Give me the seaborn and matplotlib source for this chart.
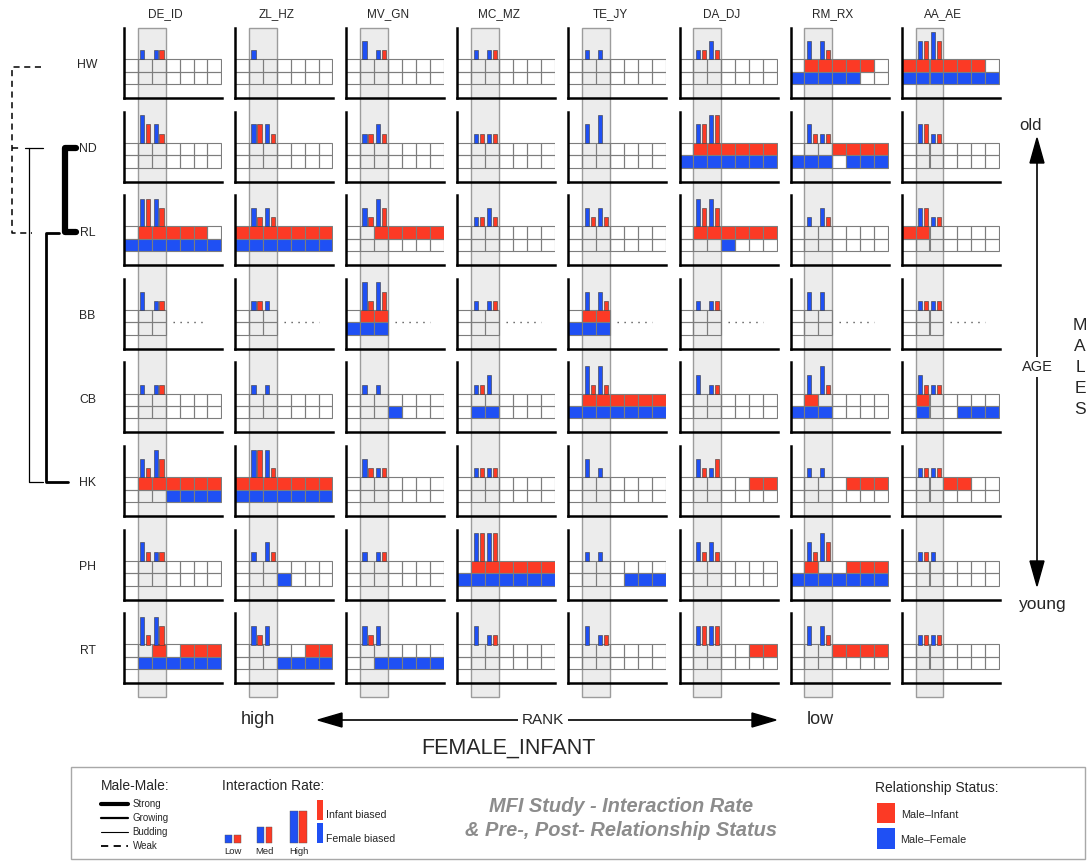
import matplotlib
matplotlib.use("Agg")
import matplotlib.pyplot as plt
from matplotlib.patches import Rectangle, Polygon
import seaborn as sns

# ---------------- data ----------------
females = ["DE_ID", "ZL_HZ", "MV_GN", "MC_MZ", "TE_JY", "DA_DJ", "RM_RX", "AA_AE"]
males = ["HW", "ND", "RL", "BB", "CB", "HK", "PH", "RT"]
rate_names = ["Low", "Med", "High"]          # level 1..3 (0 = no bar)
# interaction-rate levels per female: [female-biased, infant-biased, female-biased, infant-biased]
HW_rate = [[1,0,1,1],[1,0,0,0],[2,0,1,1],[1,0,1,1],[1,0,1,0],[1,1,2,1],[2,0,2,1],[2,2,3,2]]
ND_rate = [[3,2,2,1],[2,2,2,1],[1,1,2,1],[1,1,1,1],[2,0,3,0],[2,2,3,3],[2,1,1,1],[2,2,1,1]]
RL_rate = [[3,3,3,2],[2,1,2,1],[2,1,3,2],[1,1,2,1],[2,1,2,1],[3,2,3,2],[1,0,2,1],[2,2,1,1]]
BB_rate = [[2,0,1,1],[1,1,1,0],[3,1,3,2],[1,0,1,1],[2,0,2,1],[1,0,1,1],[2,0,2,0],[1,1,1,1]]
CB_rate = [[1,0,1,1],[1,0,1,0],[1,0,1,0],[1,1,2,0],[3,1,3,1],[2,0,1,1],[2,0,3,1],[2,1,1,1]]
HK_rate = [[2,1,3,2],[3,3,3,1],[2,1,1,1],[1,1,1,1],[2,0,1,0],[2,1,1,2],[1,0,1,0],[1,1,1,1]]
PH_rate = [[2,1,1,1],[1,0,2,1],[1,0,1,1],[3,3,3,3],[1,0,1,0],[2,1,2,1],[2,1,3,2],[1,1,1,0]]
RT_rate = [[3,1,3,2],[2,1,2,0],[2,1,2,0],[2,0,1,1],[2,0,1,1],[2,2,2,2],[2,0,2,1],[1,1,1,1]]

# relationship status over time periods (1 = present)
HW_infant = ["0000000","0000000","0000000","0000000","0000000","0000000","0111110","1111110"]
HW_female = ["0000000","0000000","0000000","0000000","0000000","0000000","1111100","1111111"]
ND_infant = ["0000000","0000000","0000000","0000000","0000000","0111111","0001111","0000000"]
ND_female = ["0000000","0000000","0000000","0000000","0000000","1111111","1110111","0000000"]
RL_infant = ["0111110","1111111","0011111","0000000","0000000","0111111","0000000","1100000"]
RL_female = ["1111111","1111111","0000000","0000000","0000000","0001000","0000000","0000000"]
BB_infant = ["000","000","011","000","011","000","000","000"]
BB_female = ["000","000","111","000","111","000","000","000"]
CB_infant = ["0000000","0000000","0000000","0000000","0111111","0000000","0100000","0100000"]
CB_female = ["0000000","0000000","0001000","0110000","1111111","0000000","1110000","0100111"]
HK_infant = ["0111111","1111111","0000000","0000000","0000000","0000011","0000111","0001100"]
HK_female = ["0001111","1111111","0000000","0000000","0000000","0000000","0000000","0000000"]
PH_infant = ["0000000","0000000","0000000","0111111","0000000","0000000","0100111","0000000"]
PH_female = ["0000000","0001000","0000000","1111111","0000111","0000000","1111111","0000000"]
RT_infant = ["0010111","0000011","0000000","0000000","0000000","0000011","0001111","0000000"]
RT_female = ["0111111","0001111","0011111","0000000","0000000","0000000","0000000","0000000"]

rates = [HW_rate, ND_rate, RL_rate, BB_rate, CB_rate, HK_rate, PH_rate, RT_rate]
infants = [HW_infant, ND_infant, RL_infant, BB_infant, CB_infant, HK_infant, PH_infant, RT_infant]
females_rel = [HW_female, ND_female, RL_female, BB_female, CB_female, HK_female, PH_female, RT_female]

# ---------------- style ----------------
sns.set_theme(style="white")
plt.rcParams["font.family"] = ["Liberation Sans", "DejaVu Sans"]

RED = "#fc3a25"
BLUE = "#1f50f4"
W, H = 1091, 861
fig = plt.figure(figsize=(W / 100, H / 100), dpi=100)

bg = fig.add_axes([0, 0, 1, 1])
bg.set_xlim(0, W)
bg.set_ylim(H, 0)
bg.axis("off")
bg.set_zorder(0)

CELL_W = 13.9
CELL_H = 12.35
PANEL_W, PANEL_H = 98, 70
col_left = [124 + 111.1 * j for j in range(8)]
row_bottom = [98 + 83.6 * i for i in range(8)]
BLUE_Y0 = 14.0
RED_Y0 = BLUE_Y0 + CELL_H
BAR_Y0 = RED_Y0 + CELL_H
LEVEL_H = 9.2
bar_x = [1.32, 1.75, 2.28, 2.70]
bar_c = [BLUE, RED, BLUE, RED]

# shaded band (periods 2-3) behind each column
for j in range(8):
    x0 = col_left[j] + CELL_W
    bg.add_patch(Rectangle((x0, 28), 2 * CELL_W, 697 - 28, facecolor="#ececec",
                           edgecolor="#9c9c9c", lw=1.0, zorder=0))

for i, m in enumerate(males):
    for j, f in enumerate(females):
        left = col_left[j]
        bottom = row_bottom[i]
        ax = fig.add_axes([left / W, 1 - bottom / H, PANEL_W / W, PANEL_H / H])
        ax.set_zorder(1)
        ax.patch.set_alpha(0)
        ax.set_xlim(0, PANEL_W / CELL_W)
        ax.set_ylim(0, PANEL_H)
        ax.set_xticks([])
        ax.set_yticks([])
        sns.despine(ax=ax)
        for s in ["left", "bottom"]:
            ax.spines[s].set_color("black")
            ax.spines[s].set_linewidth(1.8)
        inf = infants[i][j]
        fem = females_rel[i][j]
        for k in range(len(inf)):
            ax.add_patch(Rectangle((k, RED_Y0), 1, CELL_H,
                                   facecolor=RED if inf[k] == "1" else "none",
                                   edgecolor="#7d7d7d", lw=0.8, zorder=2))
            ax.add_patch(Rectangle((k, BLUE_Y0), 1, CELL_H,
                                   facecolor=BLUE if fem[k] == "1" else "none",
                                   edgecolor="#7d7d7d", lw=0.8, zorder=2))
        if len(inf) < 7:
            ax.plot([3.5, 6.0], [RED_Y0, RED_Y0], color="#555555", lw=1.0,
                    linestyle=(0, (1, 4)), zorder=2)
        lv = rates[i][j]
        xs = [bar_x[k] for k in range(4) if lv[k] > 0]
        hs = [lv[k] * LEVEL_H for k in range(4) if lv[k] > 0]
        cs = [bar_c[k] for k in range(4) if lv[k] > 0]
        ax.bar(xs, hs, width=0.3, bottom=BAR_Y0, color=cs, edgecolor="#3a3a3a",
               lw=0.4, zorder=3)

# column headers
for j, f in enumerate(females):
    bg.text(col_left[j] + 3 * CELL_W, 14, f, ha="center", va="center", fontsize=8.5)
# row labels
for i, m in enumerate(males):
    bg.text(87.5, row_bottom[i] - 32.5, m, ha="center", va="center", fontsize=8.8)

# dendrogram of male-male relationships
ydn = {"HW": 67, "ND": 148.3, "RL": 232.5, "HK": 482}
dash = dict(color="black", lw=1.1, linestyle=(0, (4, 3)))
bg.plot([41, 12.3, 12.3, 32], [ydn["HW"], ydn["HW"], ydn["RL"], ydn["RL"]], **dash)
bg.plot([12.3, 21], [ydn["ND"], ydn["ND"]], **dash)
bg.plot([25, 43], [ydn["ND"], ydn["ND"]], color="black", lw=0.9)
bg.plot([29.3, 29.3, 43], [ydn["ND"], ydn["HK"], ydn["HK"]], color="black", lw=0.9)
bg.plot([59, 45.7, 45.7, 68], [ydn["RL"], ydn["RL"], ydn["HK"], ydn["HK"]],
        color="black", lw=2.0)
bg.plot([76, 65, 65, 76], [ydn["ND"], ydn["ND"], ydn["RL"] - 0.5, ydn["RL"] - 0.5],
        color="black", lw=4.5, solid_capstyle="round", solid_joinstyle="round")

# age axis (right)
bg.plot([1037, 1037], [155, 570], color="black", lw=1.2)
bg.add_patch(Polygon([[1037, 138], [1030, 163], [1044, 163]], closed=True, color="black"))
bg.add_patch(Polygon([[1037, 586], [1030, 561], [1044, 561]], closed=True, color="black"))
bg.text(1031, 125, "old", ha="center", va="center", fontsize=12)
bg.text(1043, 605, "young", ha="center", va="center", fontsize=12.5)
bg.text(1037, 367, "AGE", ha="center", va="center", fontsize=10.5,
        bbox=dict(facecolor="white", edgecolor="none", pad=2))
for k, ch in enumerate("MALES"):
    bg.text(1080, 325 + 21.2 * k, ch, ha="center", va="center", fontsize=12.5)

# rank axis (bottom)
bg.plot([330, 765], [720, 720], color="black", lw=1.2)
bg.add_patch(Polygon([[318, 720], [342, 713], [342, 727]], closed=True, color="black"))
bg.add_patch(Polygon([[776, 720], [752, 713], [752, 727]], closed=True, color="black"))
bg.text(258, 720, "high", ha="center", va="center", fontsize=13)
bg.text(820, 720, "low", ha="center", va="center", fontsize=13)
bg.text(543, 720, "RANK", ha="center", va="center", fontsize=11,
        bbox=dict(facecolor="white", edgecolor="none", pad=3))
bg.text(508, 748, "FEMALE_INFANT", ha="center", va="center", fontsize=15.5)

# legend box
bg.add_patch(Rectangle((71, 767), 1014, 92, facecolor="white", edgecolor="#a8a8a8", lw=1.0))
bg.text(101, 786, "Male-Male:", ha="left", va="center", fontsize=10)
mm = [("Strong", 3.0, "-"), ("Growing", 1.6, "-"), ("Budding", 0.8, "-"), ("Weak", 1.3, (0, (4, 3)))]
for k, (lab, lw, ls) in enumerate(mm):
    yy = 804.3 + 13.9 * k
    bg.plot([101, 128], [yy, yy], color="black", lw=lw, linestyle=ls)
    bg.text(132.5, yy, lab, ha="left", va="center", fontsize=7)

bg.text(222.5, 786, "Interaction Rate:", ha="left", va="center", fontsize=10)
leg_bx = [(225, 234), (257.3, 266), (290.3, 299)]
leg_bw = [6.5, 6.3, 7.5]
for k, name in enumerate(rate_names):
    h = 8 * 2 ** k
    bxx, rxx = leg_bx[k]
    bg.add_patch(Rectangle((bxx, 843.3 - h), leg_bw[k], h, facecolor=BLUE, edgecolor="#555", lw=0.3))
    bg.add_patch(Rectangle((rxx, 843.3 - h), leg_bw[k], h, facecolor=RED, edgecolor="#555", lw=0.3))
    bg.text(bxx + leg_bw[k] + 1, 852, name, ha="center", va="center", fontsize=6.8)
bg.add_patch(Rectangle((316.7, 800), 6.6, 20, facecolor=RED, edgecolor="none"))
bg.add_patch(Rectangle((316.7, 823.3), 6.6, 19.5, facecolor=BLUE, edgecolor="none"))
bg.text(326, 815, "Infant biased", ha="left", va="center", fontsize=7.6)
bg.text(326, 838.5, "Female biased", ha="left", va="center", fontsize=7.6)

bg.text(621, 807, "MFI Study - Interaction Rate", ha="center", va="center",
        fontsize=14.4, fontweight="bold", fontstyle="italic", color="#8c8c8c")
bg.text(621, 830, "& Pre-, Post- Relationship Status", ha="center", va="center",
        fontsize=14.4, fontweight="bold", fontstyle="italic", color="#8c8c8c")

bg.text(875, 788, "Relationship Status:", ha="left", va="center", fontsize=10)
bg.add_patch(Rectangle((877, 803.3), 17.5, 20, facecolor=RED, edgecolor="none"))
bg.add_patch(Rectangle((877, 828.3), 17.5, 21, facecolor=BLUE, edgecolor="none"))
bg.text(901, 814.5, "Male\u2013Infant", ha="left", va="center", fontsize=7.8)
bg.text(900, 840, "Male\u2013Female", ha="left", va="center", fontsize=7.8)

fig.savefig("out.png", dpi=100)
